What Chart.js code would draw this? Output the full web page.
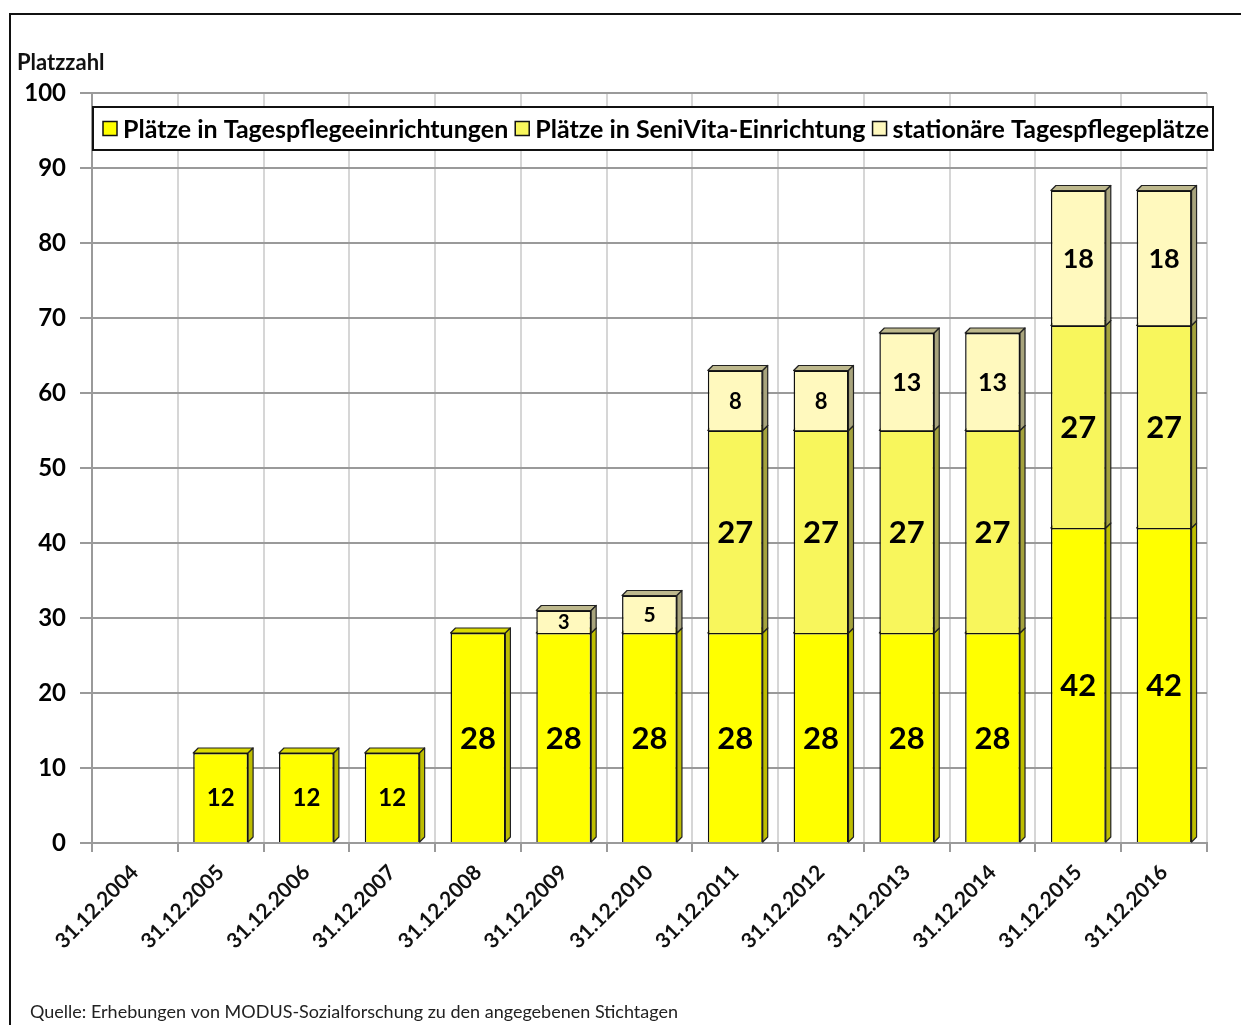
<!DOCTYPE html>
<html>
<head>
<meta charset="utf-8">
<script src="https://cdn.jsdelivr.net/npm/chart.js@4/dist/chart.umd.min.js"></script>
<style>
  html, body { margin: 0; padding: 0; background: #fff; }
  canvas { display: block; }
</style>
</head>
<body>
<canvas id="c" width="1241" height="1025"></canvas>
<script>
// Stichtage
const categories = ['31.12.2004', '31.12.2005', '31.12.2006', '31.12.2007', '31.12.2008',
  '31.12.2009', '31.12.2010', '31.12.2011', '31.12.2012', '31.12.2013', '31.12.2014',
  '31.12.2015', '31.12.2016'];
// Plätze je Angebotsform
const tagespflege = [0, 12, 12, 12, 28, 28, 28, 28, 28, 28, 28, 42, 42];
const seniVita    = [0, 0, 0, 0, 0, 0, 0, 27, 27, 27, 27, 27, 27];
const stationaer  = [0, 0, 0, 0, 0, 3, 5, 8, 8, 13, 13, 18, 18];
const seriesNames = ['Plätze in Tagespflegeeinrichtungen', 'Plätze in SeniVita-Einrichtung', 'stationäre Tagespflegeplätze'];
const yTicks = [0, 10, 20, 30, 40, 50, 60, 70, 80, 90, 100];

const FONT = 'Lato, "Liberation Sans", sans-serif';
const colors = ['#FFFF00', '#F8F65C', '#FFF9BE'];
const DEPTH = 5;

function shade(hex, f) {
  const n = parseInt(hex.slice(1), 16);
  const r = Math.round(((n >> 16) & 255) * f);
  const g = Math.round(((n >> 8) & 255) * f);
  const b = Math.round((n & 255) * f);
  return `rgb(${r},${g},${b})`;
}

// Side and top faces of the bars, drawn behind the front faces
const bar3d = {
  id: 'bar3d',
  beforeDatasetsDraw(chart) {
    const ctx = chart.ctx;
    chart.data.datasets.forEach((ds, di) => {
      const meta = chart.getDatasetMeta(di);
      meta.data.forEach((el, i) => {
        if (!(ds.data[i] > 0)) return;
        const p = el.getProps(['x', 'y', 'base', 'width'], true);
        const l = p.x - p.width / 2, r = p.x + p.width / 2;
        const top = Math.min(p.y, p.base), bot = Math.max(p.y, p.base);
        ctx.save();
        ctx.strokeStyle = '#222';
        ctx.lineWidth = 1.2;
        ctx.lineJoin = 'round';
        // top face
        ctx.beginPath();
        ctx.moveTo(l, top);
        ctx.lineTo(l + DEPTH, top - DEPTH);
        ctx.lineTo(r + DEPTH, top - DEPTH);
        ctx.lineTo(r, top);
        ctx.closePath();
        ctx.fillStyle = di === 0 ? shade(ds.backgroundColor, 0.86) : shade(ds.backgroundColor, 0.74);
        ctx.fill(); ctx.stroke();
        // side face
        ctx.beginPath();
        ctx.moveTo(r, top);
        ctx.lineTo(r + DEPTH, top - DEPTH);
        ctx.lineTo(r + DEPTH, bot - DEPTH);
        ctx.lineTo(r, bot);
        ctx.closePath();
        ctx.fillStyle = di === 0 ? shade(ds.backgroundColor, 0.74) : shade(ds.backgroundColor, 0.66);
        ctx.fill(); ctx.stroke();
        ctx.restore();
      });
    });
  }
};

// Value labels inside the segments
const valueLabels = {
  id: 'valueLabels',
  afterDatasetsDraw(chart) {
    const ctx = chart.ctx;
    ctx.save();
    ctx.textAlign = 'center';
    ctx.textBaseline = 'middle';
    ctx.fillStyle = '#000';
    chart.data.datasets.forEach((ds, di) => {
      chart.getDatasetMeta(di).data.forEach((el, i) => {
        const v = ds.data[i];
        if (!(v > 0)) return;
        const p = el.getProps(['x', 'y', 'base'], true);
        const h = Math.abs(p.base - p.y);
        const size = Math.round(Math.min(31, 18 + 0.07 * h));
        ctx.font = `bold ${size}px ${FONT}`;
        ctx.fillText(String(v), p.x, (p.y + p.base) / 2 + 1);
      });
    });
    ctx.restore();
  }
};

// Frame, axis title, boxed legend and source note
const decorations = {
  id: 'decorations',
  beforeDraw(chart) {
    const ctx = chart.ctx;
    ctx.save();
    ctx.fillStyle = '#fff';
    ctx.fillRect(0, 0, chart.width, chart.height);
    ctx.restore();
  },
  afterDraw(chart) {
    const ctx = chart.ctx;
    const area = chart.chartArea;
    ctx.save();
    // outer frame
    ctx.strokeStyle = '#111';
    ctx.lineWidth = 2;
    ctx.beginPath();
    ctx.moveTo(10, chart.height + 2);
    ctx.lineTo(10, 14);
    ctx.lineTo(chart.width + 2, 14);
    ctx.stroke();

    // axis title
    ctx.fillStyle = '#111';
    ctx.font = `bold 22px ${FONT}`;
    ctx.textAlign = 'left';
    ctx.textBaseline = 'middle';
    ctx.fillText('Platzzahl', 17, 63);

    // legend box
    const bx = area.left + 1, by = area.top + 14, bw = area.right + 6 - bx, bh = 43;
    ctx.fillStyle = '#fff';
    ctx.fillRect(bx, by, bw, bh);
    ctx.strokeStyle = '#111';
    ctx.lineWidth = 2;
    ctx.strokeRect(bx, by, bw, bh);
    ctx.font = `bold 25px ${FONT}`;
    const cy = by + bh / 2;
    let x = bx + 10;
    seriesNames.forEach((name, i) => {
      ctx.fillStyle = colors[i];
      ctx.fillRect(x, cy - 7, 14, 14);
      ctx.strokeStyle = '#111';
      ctx.lineWidth = 1.5;
      ctx.strokeRect(x, cy - 7, 14, 14);
      ctx.fillStyle = '#000';
      ctx.fillText(name, x + 20, cy + 1);
      x += 20 + ctx.measureText(name).width + 7;
    });

    // source note
    ctx.font = `18px ${FONT}`;
    ctx.fillStyle = '#222';
    ctx.fillText('Quelle: Erhebungen von MODUS-Sozialforschung zu den angegebenen Stichtagen', 30, 1012);
    ctx.restore();
  }
};

new Chart(document.getElementById('c'), {
  type: 'bar',
  data: {
    labels: categories,
    datasets: [tagespflege, seniVita, stationaer].map((d, i) => ({
      label: seriesNames[i],
      data: d,
      backgroundColor: colors[i],
      borderColor: '#111',
      borderWidth: (c) => (c.raw > 0 ? 1.5 : 0),
      barPercentage: 0.64,
      categoryPercentage: 1
    }))
  },
  options: {
    responsive: false,
    animation: false,
    events: [],
    layout: { padding: { top: 93, right: 34, left: 0, bottom: 0 } },
    plugins: { legend: { display: false }, tooltip: { enabled: false } },
    scales: {
      x: {
        stacked: true,
        grid: { offset: true, color: '#d6d6d6', lineWidth: 2, tickLength: 9, tickColor: '#9a9a9a' },
        border: { color: '#9a9a9a', width: 2 },
        ticks: {
          minRotation: 45, maxRotation: 45, padding: 8, color: '#111',
          font: { family: FONT, weight: 'bold', size: 21 }
        },
        afterFit(s) { s.height = 182; }
      },
      y: {
        stacked: true,
        min: 0,
        max: 100,
        afterBuildTicks(s) { s.ticks = yTicks.map(v => ({ value: v })); },
        grid: { color: '#9a9a9a', lineWidth: 2, tickLength: 12, tickColor: '#9a9a9a' },
        border: { color: '#9a9a9a', width: 2 },
        ticks: {
          padding: 14, color: '#000',
          font: { family: FONT, weight: 'bold', size: 24 }
        },
        afterFit(s) { s.width = 92; }
      }
    }
  },
  plugins: [decorations, bar3d, valueLabels]
});
</script>
</body>
</html>
